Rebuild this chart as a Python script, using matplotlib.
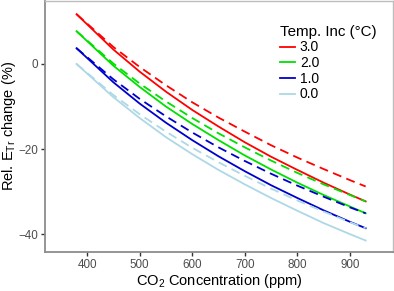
import matplotlib
matplotlib.use("Agg")
import matplotlib.pyplot as plt

plt.rcParams['font.family'] = ['Liberation Sans', 'DejaVu Sans']
plt.rcParams['mathtext.fontset'] = 'custom'
plt.rcParams['mathtext.rm'] = 'Liberation Sans'
plt.rcParams['mathtext.it'] = 'Liberation Sans:italic'

co2 = [380, 450, 500, 550, 600, 650, 700, 750, 800, 850, 900, 930]

solid_30 = [11.7, 3.4, -1.8, -6.5, -10.8, -14.7, -18.4, -21.8, -24.9, -27.9, -30.7, -32.3]
solid_20 = [7.7, -0.4, -5.4, -10.0, -14.1, -17.9, -21.5, -24.8, -27.9, -30.8, -33.5, -35.1]
solid_10 = [3.7, -4.3, -9.3, -13.8, -17.9, -21.7, -25.2, -28.5, -31.5, -34.4, -37.1, -38.6]
solid_00 = [0.0, -7.8, -12.7, -17.2, -21.2, -24.9, -28.3, -31.5, -34.5, -37.4, -40.0, -41.5]

dash_30 = [11.7, 4.0, -0.7, -5.0, -9.0, -12.6, -15.9, -19.1, -22.0, -24.7, -27.3, -28.8]
dash_20 = [7.7, 0.1, -4.6, -8.8, -12.7, -16.3, -19.6, -22.7, -25.6, -28.3, -30.8, -32.3]
dash_10 = [3.7, -3.6, -8.2, -12.3, -16.1, -19.6, -22.8, -25.8, -28.6, -31.2, -33.7, -35.1]
dash_00 = [0.0, -7.3, -11.8, -15.9, -19.7, -23.1, -26.3, -29.3, -32.1, -34.7, -37.2, -38.6]

labels = ['3.0', '2.0', '1.0', '0.0']
colors = ['#FF0000', '#00E000', '#0000CD', '#ADD8E6']
solids = [solid_30, solid_20, solid_10, solid_00]
dashes = [dash_30, dash_20, dash_10, dash_00]

xticks = [400, 500, 600, 700, 800, 900]
yticks = [-40, -20, 0]

fig = plt.figure(figsize=(3.94, 2.91), dpi=100)
ax = fig.add_axes([45/394, 1 - 252/291, (393 - 45)/394, (252 - 1)/291])

for lab, col, s, d in zip(labels, colors, solids, dashes):
    ax.plot(co2, d, color=col, lw=1.3, dashes=(5, 3), solid_capstyle='butt')
    ax.plot(co2, s, color=col, lw=1.3, label=lab)

ax.set_xlim(320, 982)
ax.set_ylim(-44.2, 14.8)
ax.set_xticks(xticks)
ax.set_yticks(yticks)
ax.tick_params(labelsize=8.4, colors='#333333', labelcolor='#4d4d4d', length=3, width=1, pad=2)

for side in ['left', 'bottom']:
    ax.spines[side].set_color('#8c8c8c')
    ax.spines[side].set_linewidth(1.3)
for side in ['top', 'right']:
    ax.spines[side].set_color('#bdbdbd')
    ax.spines[side].set_linewidth(1.0)

ax.set_xlabel(r'CO$_2$ Concentration (ppm)', fontsize=10.5)
ax.set_ylabel(r'Rel. E$_{\mathrm{Tr}}$ change (%)', fontsize=10.5)
ax.xaxis.set_label_coords(0.5, (252 - 272) / 251)
ax.yaxis.set_label_coords((18 - 45) / 348, 0.5)

leg = ax.legend(title='Temp. Inc (°C)', loc='upper left',
                bbox_to_anchor=(270/394, 1 - 15/291), bbox_transform=fig.transFigure,
                frameon=False, fontsize=10.0, title_fontsize=10.9,
                handlelength=1.1, handletextpad=0.35, labelspacing=0.12,
                borderpad=0.2, alignment='left')

fig.savefig('out.png', dpi=100)
